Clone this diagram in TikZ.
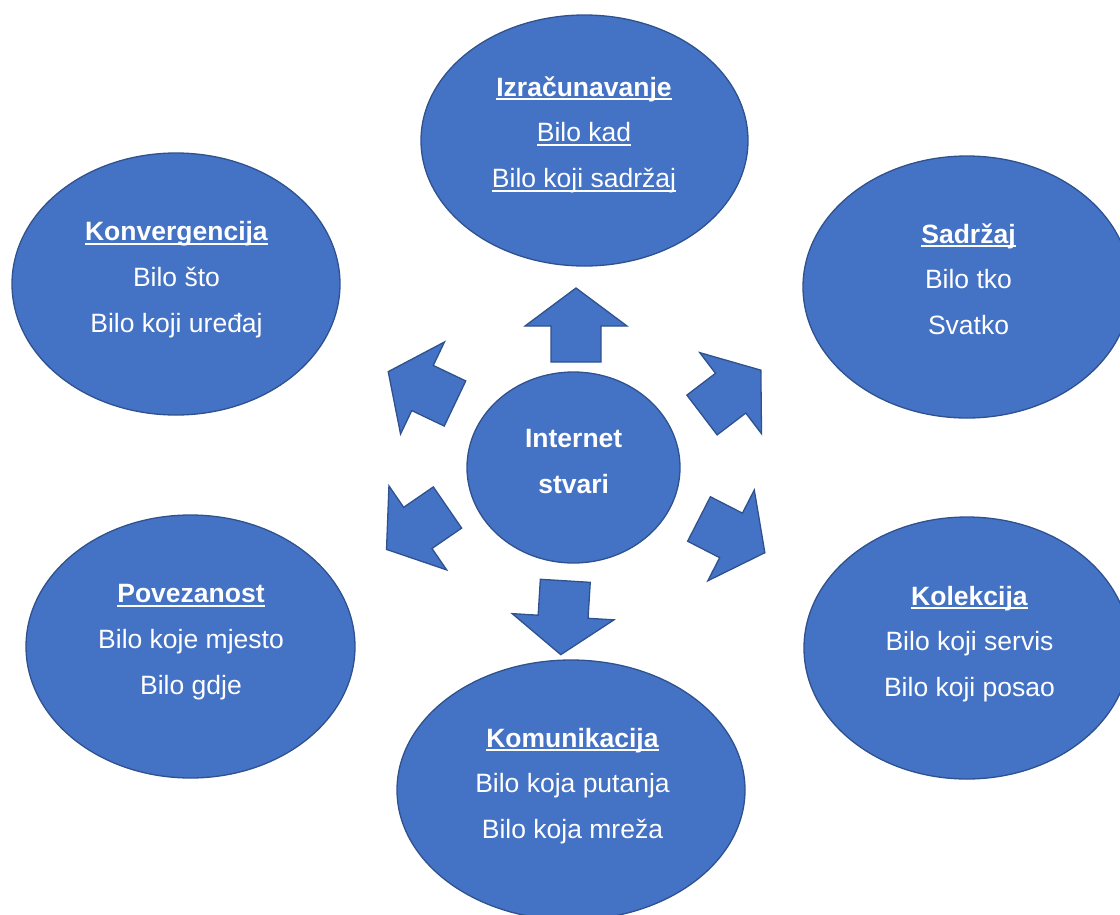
\documentclass[tikz,border=0pt]{standalone}
\usepackage{fontspec}
\setmainfont{Liberation Sans}
\usetikzlibrary{shapes.geometric}
\definecolor{ofblue}{HTML}{4472C4}
\definecolor{ofedge}{HTML}{2F528F}
\newcommand{\ulx}[1]{\setbox0\hbox{#1}\rlap{\rule[-4pt]{\wd0}{1.9pt}}\box0}
\tikzset{
  bub/.style={ellipse, draw=ofedge, fill=ofblue, line width=1.3pt, inner sep=0pt},
  txt/.style={text=white, align=center, inner sep=0pt, font=\fontsize{26.5}{45.8}\selectfont},
  arrowstyle/.style={draw=ofedge, fill=ofblue, line width=1.3pt, line join=miter},
  blockarrow/.pic={\path[arrowstyle] (0,-25) -- (36,-25) -- (36,-51) -- (74,0) -- (36,51) -- (36,25) -- (0,25) -- cycle;}
}
\begin{document}
\begin{tikzpicture}[x=1pt,y=-1pt]
\useasboundingbox (0,0) rectangle (1120,914);
\clip (0,0) rectangle (1120,914);
% ellipses
\node[bub, minimum width=327pt, minimum height=251pt] (izr) at (584.5,140.5) {};
\node[bub, minimum width=328pt, minimum height=262pt] (kon) at (176,284) {};
\node[bub, minimum width=328pt, minimum height=262pt] (sad) at (967,287) {};
\node[bub, minimum width=329pt, minimum height=263pt] (pov) at (190.5,646.5) {};
\node[bub, minimum width=348pt, minimum height=260pt] (kom) at (571,790) {};
\node[bub, minimum width=326pt, minimum height=262pt] (kol) at (967,648) {};
\node[bub, minimum width=213pt, minimum height=191pt] (c) at (573.5,467.5) {};
% block arrows
\pic[rotate=90] at (576,362) {blockarrow};
\pic[rotate=37.3] at (702,415) {blockarrow};
\pic[rotate=154.5] at (455,403.5) {blockarrow};
\pic[rotate=214.5] at (447.5,507.5) {blockarrow};
\pic[rotate=-27.1] at (699,519) {blockarrow};
\pic[rotate=266.5] at (565.3,580.8) {blockarrow};
% texts
\node[txt] (izr-t) at (584,132.8) {\strut\ulx{\textbf{Izračunavanje}}\\\ulx{Bilo kad}\\\ulx{Bilo koji sadržaj}\strut};
\node[txt] (kon-t) at (176.5,277.3) {\strut\ulx{\textbf{Konvergencija}}\\Bilo što\\Bilo koji uređaj\strut};
\node[txt] (sad-t) at (968.5,279.8) {\strut\ulx{\textbf{Sadržaj}}\\Bilo tko\\Svatko\strut};
\node[txt] (pov-t) at (191,639.5) {\strut\ulx{\textbf{Povezanost}}\\Bilo koje mjesto\\Bilo gdje\strut};
\node[txt] (kom-t) at (572.5,783.8) {\strut\ulx{\textbf{Komunikacija}}\\Bilo koja putanja\\Bilo koja mreža\strut};
\node[txt] (kol-t) at (969.5,641.8) {\strut\ulx{\textbf{Kolekcija}}\\Bilo koji servis\\Bilo koji posao\strut};
\node[txt, font=\fontsize{26.5}{46}\selectfont\bfseries] (c-t) at (573.7,460.8) {\strut Internet\\stvari\strut};
\end{tikzpicture}
\end{document}
